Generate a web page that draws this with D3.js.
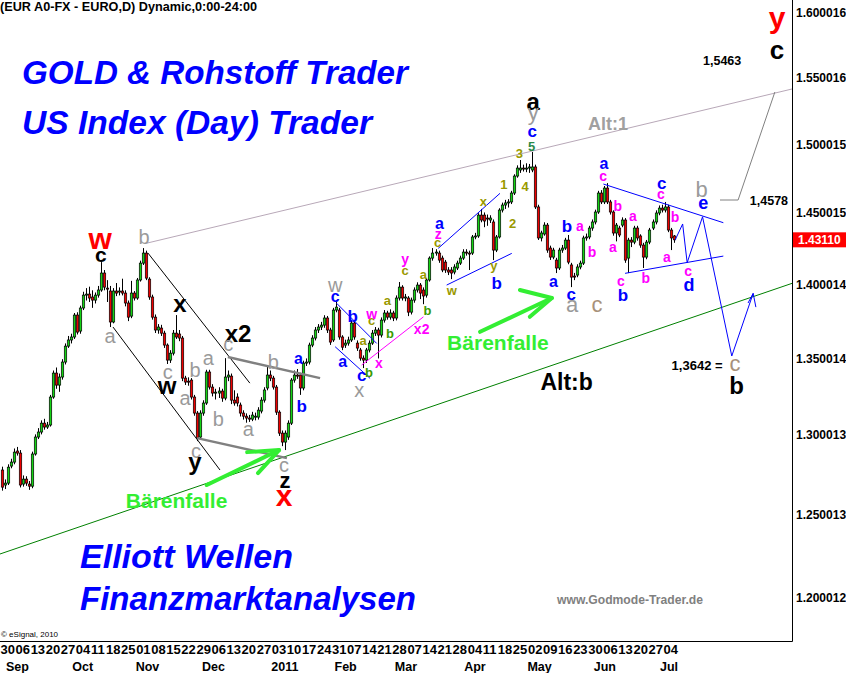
<!DOCTYPE html>
<html><head><meta charset="utf-8">
<script src="https://cdn.jsdelivr.net/npm/d3@7/dist/d3.min.js"></script>
<style>
body{margin:0;background:#fff;}
svg{display:block;font-family:"Liberation Sans",Arial,sans-serif;}
</style></head><body>
<svg id="c" width="846" height="673"></svg>
<script>
// ---------- DATA ----------
const open = [
1.2779,1.2685,1.2697,1.2804,1.2829,1.2899,1.2886,1.2691,1.2722,1.2691,
1.2678,1.2880,1.2988,1.3020,1.3077,1.3052,1.3065,1.3246,1.3403,1.3324,
1.3377,1.3476,1.3582,1.3623,1.3643,1.3791,1.3683,1.3839,1.3927,1.3934,
1.3914,1.3893,1.3927,1.3962,1.4079,1.3975,1.3955,1.3744,1.3955,1.3948,
1.3955,1.3941,1.3873,1.3784,1.3941,1.3907,1.4031,1.4148,1.4218,1.4037,
1.3914,1.3777,1.3690,1.3703,1.3669,1.3589,1.3489,1.3535,1.3669,1.3663,
1.3636,1.3370,1.3350,1.3357,1.3246,1.3142,1.2988,1.3142,1.3207,1.3410,
1.3311,1.3272,1.3272,1.3285,1.3239,1.3377,1.3383,1.3226,1.3246,1.3194,
1.3142,1.3122,1.3110,1.3103,1.3116,1.3116,1.3155,1.3226,1.3305,1.3390,
1.3370,1.3311,1.3148,1.3013,1.2956,1.2988,1.3077,1.3357,1.3390,1.3390,
1.3305,1.3469,1.3476,1.3589,1.3636,1.3690,1.3710,1.3723,1.3771,1.3690,
1.3623,1.3825,1.3825,1.3643,1.3589,1.3602,1.3623,1.3737,1.3602,1.3556,
1.3502,1.3489,1.3556,1.3602,1.3669,1.3690,1.3656,1.3757,1.3805,1.3777,
1.3805,1.3771,1.3907,1.3982,1.3907,1.3907,1.3811,1.3893,1.3962,1.3996,
1.3962,1.3927,1.4031,1.4183,1.4218,1.4218,1.4183,1.4155,1.4100,1.4100,
1.4086,1.4114,1.4148,1.4183,1.4225,1.4218,1.4218,1.4331,1.4338,1.4486,
1.4486,1.4465,1.4451,1.4437,1.4239,1.4331,1.4522,1.4558,1.4573,1.4580,
1.4644,1.4767,1.4811,1.4825,1.4818,1.4825,1.4811,1.4833,1.4544,1.4324,
1.4352,1.4415,1.4253,1.4190,1.4169,1.4114,1.4239,1.4253,1.4309,1.4135,
1.4058,1.4065,1.4121,1.4148,1.4324,1.4331,1.4394,1.4437,1.4508,1.4644,
1.4580,1.4680,1.4580,1.4508,1.4359,1.4394,1.4415,1.4451,1.4183,1.4309,
1.4295,1.4394,1.4338,1.4274,1.4190,1.4295,1.4394,1.4437,1.4501,1.4536,
1.4522,1.4544,1.4380,1.4338];
const high = [
1.2800,1.2720,1.2815,1.2850,1.2915,1.2925,1.2905,1.2745,1.2740,1.2710,
1.2895,1.3005,1.3045,1.3095,1.3105,1.3085,1.3260,1.3420,1.3440,1.3400,
1.3495,1.3600,1.3650,1.3665,1.3805,1.3810,1.3855,1.3950,1.3975,1.3985,
1.3960,1.3945,1.3990,1.4155,1.4100,1.4030,1.3990,1.3975,1.4010,1.3980,
1.4040,1.3960,1.3890,1.4025,1.3955,1.4045,1.4165,1.4253,1.4235,1.4050,
1.3930,1.3795,1.3730,1.3725,1.3685,1.3600,1.3555,1.3690,1.3791,1.3690,
1.3650,1.3385,1.3375,1.3370,1.3260,1.3155,1.3160,1.3225,1.3425,1.3425,
1.3330,1.3300,1.3310,1.3300,1.3502,1.3420,1.3400,1.3290,1.3270,1.3210,
1.3160,1.3140,1.3130,1.3150,1.3145,1.3180,1.3245,1.3310,1.3456,1.3420,
1.3385,1.3325,1.3160,1.3030,1.3030,1.3095,1.3370,1.3420,1.3430,1.3405,
1.3485,1.3500,1.3605,1.3655,1.3710,1.3730,1.3745,1.3790,1.3785,1.3705,
1.3840,1.3893,1.3840,1.3655,1.3625,1.3645,1.3755,1.3750,1.3620,1.3570,
1.3520,1.3570,1.3620,1.3690,1.3710,1.3705,1.3775,1.3825,1.3820,1.3830,
1.3820,1.3925,1.4017,1.3995,1.3935,1.3920,1.3910,1.3980,1.4015,1.4010,
1.3980,1.4045,1.4195,1.4253,1.4245,1.4235,1.4200,1.4170,1.4120,1.4120,
1.4140,1.4165,1.4200,1.4245,1.4245,1.4235,1.4345,1.4360,1.4500,1.4530,
1.4505,1.4490,1.4485,1.4455,1.4345,1.4535,1.4575,1.4595,1.4600,1.4660,
1.4780,1.4845,1.4884,1.4850,1.4860,1.4855,1.4943,1.4850,1.4560,1.4375,
1.4435,1.4430,1.4270,1.4255,1.4185,1.4255,1.4275,1.4325,1.4345,1.4150,
1.4080,1.4140,1.4165,1.4340,1.4355,1.4410,1.4455,1.4525,1.4660,1.4665,
1.4695,1.4716,1.4595,1.4520,1.4430,1.4410,1.4470,1.4465,1.4325,1.4330,
1.4410,1.4410,1.4350,1.4290,1.4310,1.4395,1.4455,1.4520,1.4555,1.4560,
1.4580,1.4560,1.4395,1.4345];
const low = [
1.2650,1.2660,1.2685,1.2790,1.2815,1.2870,1.2670,1.2675,1.2680,1.2655,
1.2665,1.2870,1.2975,1.3005,1.3035,1.3040,1.3055,1.3235,1.3300,1.3280,
1.3360,1.3460,1.3570,1.3600,1.3630,1.3660,1.3665,1.3825,1.3890,1.3880,
1.3840,1.3870,1.3910,1.3950,1.3960,1.3880,1.3710,1.3735,1.3920,1.3925,
1.3925,1.3850,1.3750,1.3770,1.3890,1.3895,1.4020,1.4135,1.4030,1.3895,
1.3760,1.3670,1.3665,1.3650,1.3570,1.3463,1.3470,1.3520,1.3630,1.3615,
1.3350,1.3325,1.3320,1.3230,1.3125,1.2962,1.2975,1.3125,1.3195,1.3295,
1.3250,1.3230,1.3240,1.3215,1.3225,1.3350,1.3200,1.3190,1.3185,1.3120,
1.3100,1.3080,1.3085,1.3090,1.3095,1.3100,1.3140,1.3210,1.3290,1.3350,
1.3295,1.3130,1.2995,1.2930,1.2905,1.2970,1.3065,1.3340,1.3365,1.3260,
1.3290,1.3450,1.3460,1.3575,1.3620,1.3670,1.3690,1.3705,1.3670,1.3590,
1.3610,1.3810,1.3625,1.3555,1.3570,1.3585,1.3610,1.3625,1.3550,1.3485,
1.3436,1.3470,1.3540,1.3590,1.3650,1.3500,1.3640,1.3740,1.3760,1.3760,
1.3750,1.3755,1.3890,1.3890,1.3885,1.3784,1.3795,1.3875,1.3945,1.3900,
1.3865,1.3910,1.4020,1.4165,1.4200,1.4150,1.4085,1.4080,1.4065,1.4037,
1.4070,1.4100,1.4135,1.4170,1.4200,1.4100,1.4205,1.4315,1.4325,1.4435,
1.4400,1.4410,1.4430,1.4169,1.4225,1.4320,1.4505,1.4530,1.4540,1.4565,
1.4630,1.4755,1.4790,1.4800,1.4795,1.4790,1.4795,1.4530,1.4310,1.4300,
1.4340,1.4220,1.4170,1.4175,1.4079,1.4100,1.4220,1.4240,1.4140,1.3982,
1.4030,1.4050,1.4105,1.4135,1.4305,1.4315,1.4375,1.4420,1.4495,1.4565,
1.4565,1.4565,1.4490,1.4340,1.4300,1.4330,1.4400,1.4150,1.4079,1.4260,
1.4280,1.4305,1.4255,1.4114,1.4175,1.4280,1.4380,1.4420,1.4485,1.4505,
1.4505,1.4365,1.4239,1.4290];
const close = [
1.2672,1.2697,1.2797,1.2829,1.2892,1.2886,1.2685,1.2722,1.2697,1.2678,
1.2880,1.2988,1.3020,1.3077,1.3052,1.3065,1.3246,1.3403,1.3324,1.3377,
1.3476,1.3582,1.3623,1.3643,1.3791,1.3676,1.3839,1.3927,1.3934,1.3907,
1.3893,1.3927,1.3962,1.4079,1.3982,1.3968,1.3744,1.3955,1.3941,1.3955,
1.3941,1.3873,1.3777,1.3941,1.3907,1.4031,1.4148,1.4218,1.4044,1.3914,
1.3777,1.3690,1.3710,1.3669,1.3589,1.3489,1.3535,1.3669,1.3643,1.3636,
1.3370,1.3344,1.3344,1.3246,1.3142,1.2981,1.3142,1.3207,1.3410,1.3311,
1.3272,1.3278,1.3285,1.3239,1.3377,1.3390,1.3226,1.3207,1.3207,1.3142,
1.3122,1.3110,1.3103,1.3129,1.3122,1.3161,1.3226,1.3292,1.3390,1.3370,
1.3311,1.3148,1.3013,1.2956,1.3013,1.3077,1.3357,1.3390,1.3383,1.3305,
1.3469,1.3476,1.3589,1.3636,1.3690,1.3710,1.3723,1.3771,1.3690,1.3609,
1.3825,1.3845,1.3643,1.3575,1.3602,1.3623,1.3737,1.3643,1.3569,1.3502,
1.3489,1.3556,1.3602,1.3669,1.3690,1.3656,1.3757,1.3805,1.3777,1.3805,
1.3771,1.3907,1.3982,1.3907,1.3914,1.3811,1.3893,1.3962,1.3996,1.3941,
1.3921,1.4031,1.4183,1.4218,1.4225,1.4169,1.4100,1.4100,1.4086,1.4079,
1.4121,1.4148,1.4183,1.4225,1.4218,1.4211,1.4331,1.4338,1.4486,1.4451,
1.4444,1.4458,1.4465,1.4239,1.4331,1.4522,1.4558,1.4573,1.4580,1.4644,
1.4767,1.4825,1.4825,1.4818,1.4825,1.4833,1.4833,1.4544,1.4324,1.4359,
1.4415,1.4239,1.4190,1.4239,1.4114,1.4239,1.4253,1.4309,1.4155,1.4051,
1.4051,1.4121,1.4148,1.4324,1.4331,1.4394,1.4437,1.4508,1.4644,1.4580,
1.4680,1.4580,1.4508,1.4359,1.4415,1.4345,1.4451,1.4169,1.4309,1.4295,
1.4394,1.4324,1.4274,1.4190,1.4295,1.4380,1.4437,1.4501,1.4536,1.4522,
1.4544,1.4380,1.4324,1.4311];
const lastPrice = 1.43110;
const yTicks = [1.200012,1.250013,1.300013,1.350014,1.400014,1.450015,1.500015,1.550016,1.600016];
const weekLabels = ["30","06","13","20","27","04","11","18","25","01","08","15","22","29","06","13","20","27","03","10","17","24","31","07","14","21","28","07","14","21","28","04","11","18","25","02","09","16","23","30","06","13","20","27","04"];
const monthLabels = ["Sep","Oct","Nov","Dec","2011","Feb","Mar","Apr","May","Jun","Jul"];
const firstDay = [2010,7,30];

// annotation labels: [bar, price, text, style, anchor]
const labels = [
[32.7,1.4302,"w","red30"],[33.0,1.4197,"c","blk21"],[47.3,1.4331,"b","gry20"],[36.0,1.3636,"a","gry20"],
[59.2,1.3852,"x","blk24"],[55.2,1.3397,"c","gry20"],[54.9,1.3305,"w","blk24"],[64.2,1.3423,"b","gry20"],
[60.9,1.3226,"a","gry20"],[78.5,1.3669,"x2","blk24"],[75.2,1.3582,"c","gry20"],[68.6,1.3489,"a","gry20"],
[71.9,1.3103,"b","gry20"],[81.9,1.3026,"a","gry20"],[90.2,1.3476,"b","gry20"],[64.5,1.2886,"c","gry20"],
[64.2,1.2804,"y","blk24"],[98.5,1.3489,"a","blu16"],[99.6,1.3187,"b","blu17"],[93.7,1.2797,"c","gry20"],
[94.1,1.2703,"z","blk22"],[93.8,1.2604,"x","red30"],
[110.7,1.3982,"w","gry20"],[110.7,1.3907,"c","blu16"],[116.5,1.3784,"b","blu17"],[113.2,1.3471,"a","blu16"],
[119.5,1.3377,"c","blu17"],[118.7,1.3278,"x","gry20"],[121.9,1.3410,"b","grn13"],[120.0,1.3609,"a","olv13"],
[122.8,1.3744,"c","olv13"],[122.8,1.3791,"w","mag14"],[125.2,1.3463,"x","mag14"],[128.0,1.3880,"a","olv13"],
[128.9,1.3669,"b","grn13"],[133.9,1.4155,"y","mag14"],[133.9,1.4086,"c","olv13"],[140.0,1.4058,"a","olv13"],
[141.3,1.3825,"b","grn13"],[139.4,1.3696,"x2","mag14"],[145.3,1.4415,"a","blu16"],[144.9,1.4345,"z","mag14"],
[144.7,1.4281,"c","olv13"],[149.4,1.3948,"w","olv13"],[159.9,1.4573,"x","olv13"],[163.4,1.4114,"y","olv13"],
[164.3,1.4010,"b","blu17"],[166.7,1.4709,"1","olv13"],[169.6,1.4430,"2","olv13"],[171.8,1.4935,"3","olv13"],
[173.7,1.4695,"4","olv13"],[175.9,1.4987,"5","tea13"],[176.4,1.5300,"a","blk24"],[176.4,1.5202,"y","gry22"],
[176.1,1.5083,"c","blu17"],[183.1,1.4010,"a","blu16"],[187.6,1.4408,"b","blu17"],[191.9,1.4401,"a","mag14"],
[195.9,1.4225,"b","mag14"],[189.0,1.3927,"c","blu17"],[189.3,1.3852,"a","gry22"],[197.6,1.3852,"c","tan22"],
[199.9,1.4847,"a","blu16"],[199.6,1.4760,"c","mag14"],[204.5,1.4551,"b","mag14"],[202.9,1.4253,"a","mag14"],
[205.5,1.4017,"c","mag14"],[206.2,1.3927,"b","blu17"],[209.5,1.4472,"a","mag14"],[213.8,1.4044,"b","mag14"],
[219.1,1.4702,"c","blu17"],[218.8,1.4630,"c","mag14"],[223.5,1.4472,"b","mag14"],[220.8,1.4183,"a","mag14"],
[227.8,1.4086,"c","mag14"],[228.1,1.4003,"d","blu18"],[232.3,1.4673,"b","gry22"],[232.8,1.4565,"e","blu18"],
[248.3,1.4594,"1,4578","num","start"],[239.1,1.5634,"1,5463","num"],[257.3,1.5914,"y","red30"],
[257.3,1.5696,"c","blk26"],[230.8,1.3456,"1,3642 =","num13"],[243.4,1.3456,"c","tan22"],
[243.9,1.3324,"b","blk24"],[187.5,1.3344,"Alt:b","blk23"],[201.2,1.5150,"Alt:1","alt18"],
[58.1,1.2591,"Bärenfalle","lime21"],[164.7,1.3605,"Bärenfalle","lime21"]
];
// annotation lines: [style, [[bar, price], ...]]
const lines = [
["green",[[-0.5,1.2262],[262.6,1.4010]]],
["alt1",[[48.3,1.4288],[262.3,1.5413]]],
["black",[[48.6,1.4218],[82.4,1.3337]]],
["black",[[37.0,1.3710],[72.5,1.2779]]],
["grayT",[[64.9,1.2981],[94.7,1.2854]]],
["grayT",[[75.1,1.3509],[105.7,1.3370]]],
["blue",[[111.2,1.3871],[124.5,1.3600]]],
["blue",[[110.7,1.3578],[122.3,1.3368]]],
["mag",[[119.5,1.3456],[140.0,1.3779]]],
["blue",[[144.9,1.4251],[165.4,1.4642]]],
["blue",[[147.7,1.3996],[169.3,1.4216]]],
["blue",[[199.7,1.4709],[239.5,1.4432]]],
["blue",[[206.9,1.4077],[239.5,1.4197]]],
["blue",[[223.5,1.4309],[226.0,1.4423],[227.5,1.4151],[232.6,1.4474],[242.3,1.3516],[249.4,1.3939]]],
["blue",[[247.7,1.3873],[249.4,1.3939],[250.3,1.3845]]],
["gray",[[238.4,1.4594],[244.4,1.4594],[256.6,1.5390]]],
["lime",[[68.1,1.2685],[92.1,1.2905]]],
["lime",[[81.5,1.2892],[92.1,1.2905],[85.1,1.2760]]],
["lime",[[158.8,1.3678],[182.6,1.3907]]],
["lime",[[172.0,1.3962],[182.6,1.3907],[175.3,1.3779]]]
];

// ---------- STYLES ----------
const TS = {
 red30:["#ff0000",30,"bold"], blk21:["#000",21,"bold"], blk22:["#000",22,"bold"], blk23:["#000",23,"bold"],
 blk24:["#000",24,"bold"], blk26:["#000",26,"bold"], gry20:["#9a9a9a",20,"normal"], gry22:["#9a9a9a",22,"normal"],
 tan22:["#a8917a",22,"normal"], blu16:["#0000ff",16,"bold"], blu17:["#0000ff",17,"bold"], blu18:["#0000ff",18,"bold"],
 mag14:["#ff00ff",14,"bold"], olv13:["#999900",13,"bold"], grn13:["#3a9a00",13,"bold"], tea13:["#2b8a4a",13,"bold"],
 num:["#000",12.5,"bold"], num13:["#000",13,"bold"], alt18:["#a0a0a0",18,"bold"], lime21:["#33ee33",21,"bold"]
};
const LS = {
 green:["#008000",1], alt1:["#b8a8b8",1], black:["#000",1], grayT:["#808080",2.5], blue:["#0000ff",1],
 mag:["#ff00ff",1], gray:["#808080",1], lime:["#33ee33",4]
};

// ---------- CHART ----------
const svg = d3.select("#c");
const plotR = 792, plotB = 641;
const x = d3.scaleLinear().domain([0, close.length-1]).range([1.5, 673.6]);
const y = d3.scaleLog().domain([1.2, 1.6]).range([597.9, 13]);

const dates = [];
{ let d = new Date(firstDay[0], firstDay[1], firstDay[2]);
  while (dates.length < close.length) { const wd = d.getDay(); if (wd!==0 && wd!==6) dates.push(new Date(d)); d.setDate(d.getDate()+1); } }
const weekBars = dates.map((d,i)=>d.getDay()===1?i:-1).filter(i=>i>=0);
const monthBars = dates.map((d,i)=> (i>0 && d.getMonth()!==dates[i-1].getMonth())?i:-1).filter(i=>i>=0);

svg.append("defs").append("clipPath").attr("id","clip").append("rect").attr("x",0).attr("y",0).attr("width",plotR).attr("height",plotB);
const plot = svg.append("g").attr("clip-path","url(#clip)");

// candles
const bars = close.map((c,i)=>({i,o:open[i],h:high[i],l:low[i],c}));
const cx = i => Math.round(x(i));
plot.append("g").selectAll("line").data(bars).join("line")
  .attr("x1",d=>cx(d.i)+0.5).attr("x2",d=>cx(d.i)+0.5)
  .attr("y1",d=>y(d.h)).attr("y2",d=>y(d.l))
  .attr("stroke","#000").attr("stroke-width",1);
plot.append("g").selectAll("rect").data(bars).join("rect")
  .attr("x",d=>cx(d.i)-0.7).attr("width",2.4)
  .attr("y",d=>y(Math.max(d.o,d.c)))
  .attr("height",d=>Math.max(1,Math.abs(y(d.o)-y(d.c))))
  .attr("fill",d=>d.c>=d.o?"#14d414":"#ee0000")
  .attr("stroke","#000").attr("stroke-width",0.7);

// annotation lines
const lineGen = d3.line().x(p=>x(p[0])).y(p=>y(p[1]));
plot.append("g").selectAll("path").data(lines).join("path")
  .attr("d",d=>lineGen(d[1])).attr("fill","none")
  .attr("stroke",d=>LS[d[0]][0]).attr("stroke-width",d=>LS[d[0]][1])
  .attr("stroke-linecap",d=>d[0]==="lime"?"round":"butt")
  .attr("stroke-linejoin","round");

// annotation labels
function dyFor(t){ if(/[A-Z0-9bdfhkltä]/.test(t)) return "0.36em"; if(/^[gpqy]+$/.test(t)) return "0.15em"; return "0.26em"; }
svg.append("g").selectAll("text").data(labels).join("text")
  .attr("x",d=>x(d[0])).attr("y",d=>y(d[1])).attr("dy",d=>dyFor(d[2]))
  .attr("text-anchor",d=>d[4]||"middle")
  .attr("fill",d=>TS[d[3]][0]).attr("font-size",d=>TS[d[3]][1]).attr("font-weight",d=>TS[d[3]][2])
  .text(d=>d[2]);

// titles
const titles = [["GOLD & Rohstoff Trader",22,84,386],["US Index (Day) Trader",22,134,350],["Elliott Wellen",80,568,213],["Finanzmarktanalysen",80,610,336]];
svg.append("g").selectAll("text").data(titles).join("text")
  .attr("x",d=>d[1]).attr("y",d=>d[2]).attr("textLength",d=>d[3]).attr("lengthAdjust","spacingAndGlyphs")
  .attr("fill","#0000ff").attr("font-size",33).attr("font-weight","bold").attr("font-style","italic").text(d=>d[0]);

svg.append("text").attr("x",0).attr("y",11).attr("font-size",12.5).attr("font-weight","bold")
  .attr("textLength",257).attr("lengthAdjust","spacingAndGlyphs").text("(EUR A0-FX - EURO,D) Dynamic,0:00-24:00");
svg.append("text").attr("x",557).attr("y",604).attr("font-size",12).attr("font-weight","bold").attr("fill","#808080")
  .attr("textLength",146).attr("lengthAdjust","spacingAndGlyphs").text("www.Godmode-Trader.de");
svg.append("text").attr("x",1).attr("y",637).attr("font-size",8).text("© eSignal, 2010");

// frame
svg.append("line").attr("x1",plotR+0.5).attr("x2",plotR+0.5).attr("y1",0).attr("y2",plotB+0.5).attr("stroke","#000");
svg.append("line").attr("x1",0).attr("x2",plotR+0.5).attr("y1",plotB+0.5).attr("y2",plotB+0.5).attr("stroke","#000");

// right axis
const ya = svg.append("g").attr("transform",`translate(${plotR},0)`)
  .call(d3.axisRight(y).tickValues(yTicks).tickFormat(d3.format(".6f")).tickSize(0).tickPadding(4));
ya.select(".domain").remove();
ya.selectAll("text").attr("font-family","'Liberation Sans',Arial,sans-serif").attr("font-size",12).attr("font-weight","bold").attr("fill","#000");

// last price box
const yp = y(lastPrice);
svg.append("rect").attr("x",plotR+1).attr("y",yp-7.5).attr("width",53).attr("height",15).attr("fill","#ff0000");
svg.append("text").attr("x",plotR+6).attr("y",yp).attr("dy","0.36em").attr("fill","#fff").attr("font-size",12).attr("font-weight","bold").text(d3.format(".5f")(lastPrice));

// bottom axis: weeks
const xa = svg.append("g").attr("transform",`translate(0,${plotB})`)
  .call(d3.axisBottom(x).tickValues(weekBars).tickFormat((v,k)=>weekLabels[k]).tickSize(0).tickPadding(0));
xa.select(".domain").remove();
xa.selectAll("text").attr("text-anchor","start").attr("dx",-1.5).attr("y",4).attr("dy","0.71em")
  .attr("font-family","'Liberation Sans',Arial,sans-serif").attr("font-size",13).attr("font-weight","bold").attr("fill","#000");
// months
svg.append("g").selectAll("text").data(monthBars).join("text")
  .attr("x",i=>x(i)-1.5).attr("y",671)
  .attr("font-family","'Liberation Sans',Arial,sans-serif").attr("font-size",12.5).attr("font-weight","bold")
  .text((i,k)=>monthLabels[k]);
</script>
</body></html>
